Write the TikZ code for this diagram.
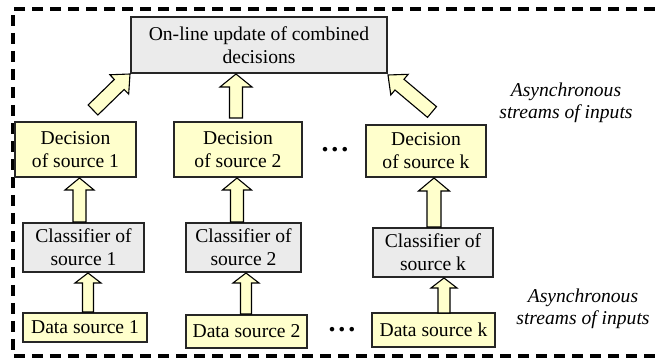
\documentclass[tikz,border=0pt]{standalone}
\usepackage{fontspec}
\setmainfont{Liberation Serif}
\usetikzlibrary{calc}

\definecolor{boxgray}{RGB}{235,235,235}
\definecolor{boxyellow}{RGB}{255,255,204}

% block arrow: #1 tail, #2 tip, #3 shaft half width, #4 head half width, #5 head length
\newcommand\blockarrow[5]{%
  \coordinate (ba-h) at ($(#2)!#5!(#1)$);
  \draw[barrow] ($(#1)!#3!90:(#2)$) -- ($(ba-h)!#3!-90:(#1)$)
    -- ($(ba-h)!#4!-90:(#1)$) -- (#2) -- ($(ba-h)!#4!90:(#1)$)
    -- ($(ba-h)!#3!90:(#1)$) -- ($(#1)!#3!-90:(#2)$) -- cycle;}

\tikzset{
  x=0.5pt, y=-0.5pt,
  box/.style={draw=black!85, line width=0.55pt, inner sep=0pt, align=center,
    font=\fontsize{9.8}{11.5}\selectfont},
  graybox/.style={box, fill=boxgray},
  yelbox/.style={box, fill=boxyellow},
  barrow/.style={draw=black, line width=0.55pt, fill=boxyellow},
  note/.style={align=center, inner sep=0pt, font=\fontsize{9.8}{11}\selectfont\itshape},
  dots/.style={inner sep=0pt, font=\fontsize{14}{14}\selectfont\bfseries},
  frame/.style={line width=1.6pt, dash pattern=on 5.5pt off 3.5pt}
}

\begin{document}
\begin{tikzpicture}
\useasboundingbox (0,0) rectangle (655,362);

% outer dashed frame
\draw[frame] (655,9) -- (13,9) -- (13,356) -- (655,356);

% fusion node
\node[graybox, minimum width=128pt, minimum height=28pt] (upd) at (259,45)
  {On-line update of combined\\decisions};

% decisions
\node[yelbox, minimum width=60.5pt, minimum height=27.5pt] (dec1) at (75.5,149.5) {Decision\\of source 1};
\node[yelbox, minimum width=64pt, minimum height=27.5pt] (dec2) at (238,149.5) {Decision\\of source 2};
\node[yelbox, minimum width=60pt, minimum height=26pt] (deck) at (426,151) {Decision\\of source k};

% classifiers
\node[graybox, minimum width=60.5pt, minimum height=24.5pt] (cls1) at (83.5,247.5) {Classifier of\\source 1};
\node[graybox, minimum width=57.5pt, minimum height=24.5pt] (cls2) at (243.5,247.5) {Classifier of\\source 2};
\node[graybox, minimum width=60pt, minimum height=24.5pt] (clsk) at (433,252.5) {Classifier of\\source k};

% data sources
\node[yelbox, minimum width=62pt, minimum height=14.5pt] (dat1) at (85,327.5) {Data source 1};
\node[yelbox, minimum width=60.5pt, minimum height=16.5pt] (dat2) at (246.5,331.5) {Data source 2};
\node[yelbox, minimum width=61.5pt, minimum height=17pt] (datk) at (433.5,330) {Data source k};

% ellipses
\node[dots] (dotsA) at (335,150) {.\kern1.4pt.\kern1.4pt.};
\node[dots] (dotsB) at (342,330) {.\kern1.4pt.\kern1.4pt.};

% side notes
\node[note] (noteA) at (566,103) {Asynchronous\\streams of inputs};
\node[note] (noteB) at (583,309) {Asynchronous\\streams of inputs};

% arrow end points
\coordinate (t1a) at (93,110);   \coordinate (t1b) at (130,74);
\coordinate (t2a) at (236,118);  \coordinate (t2b) at (236,74);
\coordinate (tka) at (432,112);  \coordinate (tkb) at (388,75);
\coordinate (m1a) at (79.5,222); \coordinate (m1b) at (79.5,178);
\coordinate (m2a) at (237,222);  \coordinate (m2b) at (237,178);
\coordinate (mka) at (434,227);  \coordinate (mkb) at (434,178);
\coordinate (l1a) at (88,312);   \coordinate (l1b) at (88,273);
\coordinate (l2a) at (246,314);  \coordinate (l2b) at (246,273);
\coordinate (lka) at (444,313);  \coordinate (lkb) at (444,278);

% decisions -> fusion
\blockarrow{t1a}{t1b}{3.5pt}{6.75pt}{7.5pt}
\blockarrow{t2a}{t2b}{3.25pt}{8pt}{6.5pt}
\blockarrow{tka}{tkb}{3.5pt}{6.75pt}{7.5pt}

% classifiers -> decisions
\blockarrow{m1a}{m1b}{3.25pt}{7.25pt}{6pt}
\blockarrow{m2a}{m2b}{3.25pt}{7.25pt}{6pt}
\blockarrow{mka}{mkb}{3.5pt}{7.75pt}{6.5pt}

% data -> classifiers
\blockarrow{l1a}{l1b}{2.75pt}{6.5pt}{5pt}
\blockarrow{l2a}{l2b}{2.75pt}{6.5pt}{5pt}
\blockarrow{lka}{lkb}{3pt}{6.5pt}{5pt}
\end{tikzpicture}
\end{document}
